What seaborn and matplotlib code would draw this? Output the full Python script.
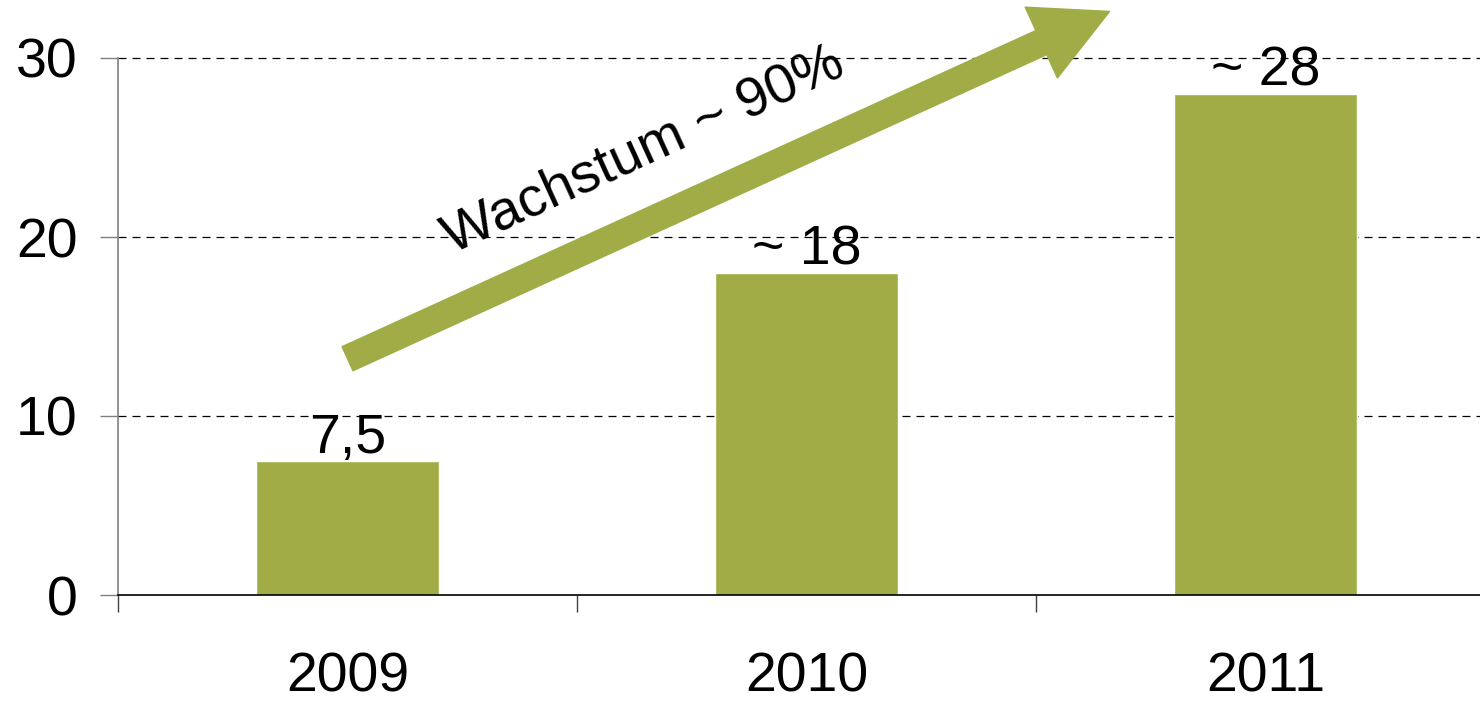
import matplotlib
matplotlib.use("Agg")
import matplotlib.pyplot as plt
import seaborn as sns
import pandas as pd

years = ["2009", "2010", "2011"]
values = [7.5, 18, 28]
value_labels = ["7,5", "~ 18", "~ 28"]
y_ticks = [0, 10, 20, 30]
growth_text = "Wachstum ~ 90%"

bar_color = "#A2AC46"

sns.set_theme(style="white")
plt.rcParams["font.family"] = ["Liberation Sans", "DejaVu Sans"]

df = pd.DataFrame({"year": years, "value": values})

fig = plt.figure(figsize=(14.8, 7.01), dpi=100)
ax = fig.add_axes([118 / 1480, 106 / 701, 1 - 118 / 1480, 537 / 701])

sns.barplot(data=df, x="year", y="value", color=bar_color, saturation=1,
            width=0.4, ax=ax)

ax.set_xlim(-0.5, 2.467)
ax.set_ylim(0, 30)
ax.set_yticks(y_ticks)
ax.set_xlabel("")
ax.set_ylabel("")

# dashed grid lines
for y in y_ticks[1:]:
    ax.axhline(y, color="black", linestyle=(0, (6.4, 4.8)), linewidth=0.9,
               zorder=0, clip_on=False)

# spines
for side in ["top", "right"]:
    ax.spines[side].set_visible(False)
ax.spines["left"].set_color("#808080")
ax.spines["left"].set_linewidth(1.2)
ax.spines["bottom"].set_color("black")
ax.spines["bottom"].set_linewidth(1.2)

# ticks: year labels centred, tick marks at category borders
ax.tick_params(axis="x", which="major", length=0, pad=41, labelsize=40, labelcolor="black")
ax.set_xticks([-0.5, 0.5, 1.5], minor=True)
ax.tick_params(axis="x", which="minor", bottom=True, length=12, width=1,
               color="#404040", direction="out")
ax.tick_params(axis="y", length=13, width=1, color="#808080", pad=16, labelsize=40,
               labelcolor="black", left=True)

# value labels on top of bars
ax.bar_label(ax.containers[0], labels=value_labels, padding=-3, fontsize=40, color="black")

# growth arrow
ax.annotate("", xy=(1.66, 32.6), xytext=(0.0, 13.2),
            arrowprops=dict(width=19, headwidth=56, headlength=54,
                            color=bar_color, shrink=0),
            annotation_clip=False)
ax.text(0.645, 24.8, growth_text, rotation=24.5, fontsize=40, color="black",
        ha="center", va="center", rotation_mode="anchor")

fig.savefig("out.png", dpi=100)
